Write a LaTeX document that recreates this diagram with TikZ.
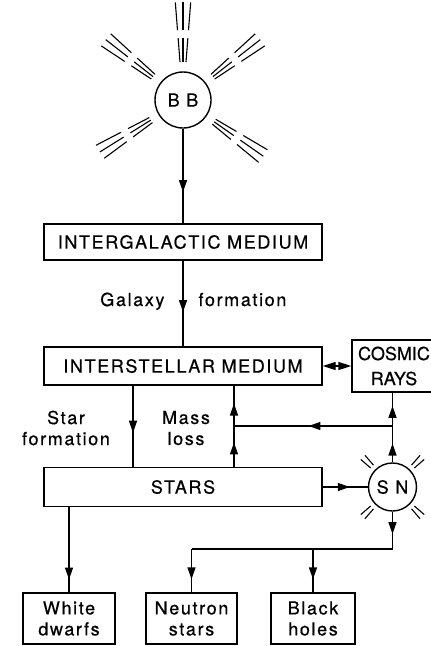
\documentclass[tikz,border=0pt]{standalone}
\usepackage{fontspec}
\setmainfont{TeX Gyre Heros}
\newfontfamily\chartfont[LetterSpace=9,FakeBold=0.6]{TeX Gyre Heros}
\newfontfamily\tightfont[FakeBold=0.6]{TeX Gyre Heros}
\usetikzlibrary{arrows.meta,decorations.markings,calc}

\tikzset{
  >={Triangle[length=12pt,width=8pt]},
  box/.style={draw,line width=1.4pt,inner sep=0pt,align=center},
  blob/.style={draw,circle,line width=1.4pt,minimum size=#1,inner sep=0pt},
  flow/.style={line width=1.4pt},
  ray/.style={line width=1.1pt},
  midarrow/.style={postaction={decorate,decoration={markings,
      mark=at position #1 with {\arrow{>}}}}}
}

\begin{document}
\begin{tikzpicture}[x=1pt,y=1pt,font=\chartfont\fontsize{18}{21}\selectfont]

  \useasboundingbox (0,0) rectangle (431,-646);

  % big bang and its rays
  \node[blob=56pt] (bb) at (183,-100) {B B};
  \foreach \a in {38,90,142,212,325}
    \foreach \d in {-4.5,0,4.5} {
      \draw[ray] ($(bb)+(\a+\d:38)$) -- ($(bb)+(\a+\d:62)$);
      \draw[ray] ($(bb)+(\a+\d:70)$) -- ($(bb)+(\a+\d:98)$);
    }

  % media
  \node[box,minimum width=278pt,minimum height=36pt] (igm) at (183,-242) {INTERGALACTIC MEDIUM};
  \node[box,minimum width=278pt,minimum height=38pt] (ism) at (183,-366) {INTERSTELLAR MEDIUM};
  \node[box,minimum width=84pt,minimum height=52pt,
        font=\tightfont\fontsize{18}{21}\selectfont] (cr) at (394,-366) {COSMIC\\[4pt]RAYS};

  % stars and supernova
  \node[box,minimum width=278pt,minimum height=39pt] (stars) at (183,-487) {STARS};
  \node[blob=48pt] (sn) at (392.5,-487) {S N};
  \foreach \a in {45,135,225,315}
    \foreach \d in {-4,4}
      \draw[ray] ($(sn)+(\a+\d:29)$) -- ($(sn)+(\a+\d:42)$);

  % remnants
  \node[box,minimum width=92pt,minimum height=51pt] (wd) at (69,-618.5) {White\\dwarfs};
  \node[box,minimum width=91pt,minimum height=51pt] (ns) at (191.5,-618.5) {Neutron\\stars};
  \node[box,minimum width=84pt,minimum height=51pt] (bh) at (313,-618.5) {Black\\holes};

  % labels
  \node[anchor=base east] (galaxy) at (168,-306) {Galaxy};
  \node[anchor=base west] (formation) at (195,-306) {formation};
  \node[align=center] (starform) at (66,-428) {Star\\formation};
  \node[align=center] (massloss) at (186,-428) {Mass\\loss};

  % flows
  \draw[flow,midarrow=0.67] (bb) -- (igm);
  \draw[flow,midarrow=0.6] (igm) -- (ism);
  \draw[flow,<->,>={Triangle[length=13pt,width=8pt]}] (ism.east) -- (cr.west);
  \draw[flow,midarrow=0.58] ([xshift=-50pt]ism.south) -- ([xshift=-50pt]stars.north);
  \draw[flow,midarrow=0.3,midarrow=0.78] ([xshift=51pt]stars.north) -- ([xshift=51pt]ism.south);
  \draw[flow,midarrow=0.27,midarrow=0.81] (sn.north) -- (sn.north |- cr.south);
  \coordinate (snjoin) at (392.5,-426);
  \coordinate (mljoin) at (234,-426);
  \draw[flow,midarrow=0.53] (snjoin) -- (mljoin);
  \draw[flow,midarrow=0.6] (stars.east) -- (sn.west);

  % to the remnants
  \coordinate (split) at (392.5,-549);
  \draw[flow,midarrow=0.6] (sn.south) -- (split);
  \draw[flow] (split) -- (split -| ns.north);
  \draw[flow,midarrow=0.7] (split -| ns.north) -- (ns.north);
  \draw[flow,midarrow=0.7] (split -| bh.north) -- (bh.north);
  \draw[flow,midarrow=0.85] (wd.north |- stars.south) -- (wd.north);

\end{tikzpicture}
\end{document}
